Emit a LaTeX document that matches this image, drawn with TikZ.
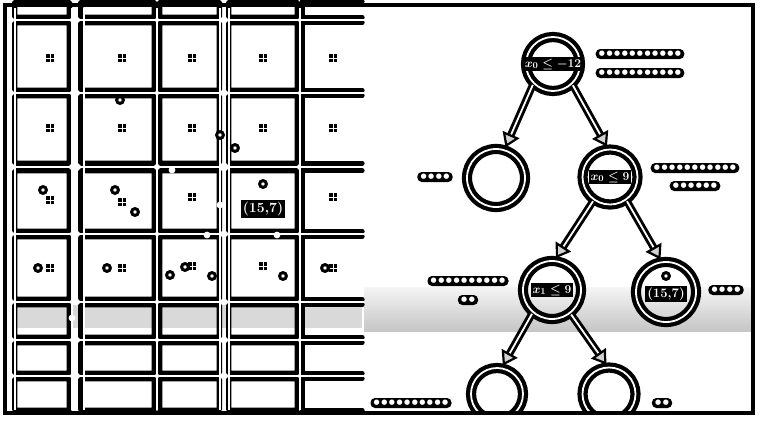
\documentclass[tikz,border=0pt]{standalone}
\usepackage{fontspec}
\newfontfamily\dejavu{DejaVu Sans}
\usetikzlibrary{arrows.meta}
\newcommand\dotrow[1]{\foreach \i in {1,...,#1}{\makebox[7.6pt]{●}}}
\tikzset{
  cellbox/.style={draw=black, line width=5.4pt, rounded corners=1.5pt},
  openrow/.style={draw=black, line width=5.4pt, line cap=round},
  streak/.style={draw=white, line width=1.3pt},
  tnode/.style={circle, draw=black, line width=4.2pt, double=white, double distance=1.8pt, inner sep=0pt},
  lab/.style={fill=black, text=white, inner xsep=2pt, inner ysep=1.5pt, font=\fontsize{13}{15}\selectfont\bfseries\boldmath},
  dotbar/.style={fill=black, text=white, rounded corners=4.5pt, inner xsep=2.5pt, inner ysep=0pt, minimum height=10pt, font=\dejavu\fontsize{7}{7}\selectfont},
  edge/.style={line width=2.9pt, double=white, double distance=1.8pt, shorten >=1pt, -{Triangle[length=14pt, width=18pt, fill=gray!35, line width=2.2pt]}},
  ring/.style={draw=black, line width=3pt},
  wdot/.style={fill=white},
}
\begin{document}
\begin{tikzpicture}[x=1pt, y=-1pt]
\useasboundingbox (0,0) rectangle (769,423);
\fill[white] (0,0) rectangle (769,423);
% grey band
\fill[gray!30] (12,305) rectangle (362,328);
\shade[top color=gray!8, bottom color=gray!45] (364,287) rectangle (752,331);
% grid cells (left panel)
\foreach \ya/\yb in {-1/20, 20/93, 93/166, 168/234, 234/302, 302/340, 340/376, 376/413}{
  \foreach \xa/\xb in {12/72, 78/157, 157/222, 226/300}{
    \draw[cellbox] (\xa+2.7,\ya+2.7) rectangle (\xb-2.7,\yb-2.7);
  }
  \draw[openrow] (362,\ya+2.7) -- (302.7,\ya+2.7) -- (302.7,\yb-2.7) -- (362,\yb-2.7);
}
% white streaks
\foreach \yy in {20, 93, 167, 234, 302, 340, 376}{
  \draw[streak] (8,\yy) -- (364,\yy);
}
\foreach \xx in {15, 72, 84, 157, 220, 229, 300}{
  \draw[streak] (\xx,8) -- (\xx,410);
}
% cell markers
\foreach \mx/\my in {50/58,122/58,192/58,263/58,333/58,
                     50/128,122/128,192/128,263/128,333/128,
                     50/200,122/202,192/197,333/197,
                     50/268,122/268,192/266,263/266,333/268}{
  \fill (\mx-3.6,\my-3.6) rectangle +(3.1,3.1);
  \fill (\mx+0.5,\my-3.6) rectangle +(3.1,3.1);
  \fill (\mx-3.6,\my+0.5) rectangle +(3.1,3.1);
  \fill (\mx+0.5,\my+0.5) rectangle +(3.1,3.1);
}
% data points
\foreach \px/\py in {120/100,220/135,235/148,43/190,115/190,135/212,263/184,
                     38/268,107/268,170/275,185/267,212/276,283/276,325/268}{
  \draw[ring, fill=white] (\px,\py) circle (3.4pt);
}
\foreach \px/\py in {172/170,220/205,207/235,277/235,72/318}{
  \fill[wdot] (\px,\py) circle (3.4pt);
}
\node[lab, font=\fontsize{14}{16}\selectfont\bfseries] (ptlabel) at (263,209) {(15,7)};
% tree (right panel)
\begin{scope}
\clip (6,6) rectangle (752,411);
\node[tnode, minimum size=54pt] (root) at (553,64) {};
\node[tnode, minimum size=58pt] (lc) at (496,178) {};
\node[tnode, minimum size=55pt] (rc) at (610,177) {};
\node[tnode, minimum size=58pt] (xa) at (552,290) {};
\node[tnode, minimum size=60pt] (leaf) at (666,292) {};
\node[tnode, minimum size=52pt] (bl) at (497,394) {};
\node[tnode, minimum size=53pt] (br) at (609,394) {};
\end{scope}
\node[lab] (t1) at (root) {$x_0\le -12$};
\node[lab] (t2) at (rc) {$x_0\le 9$};
\node[lab] (t3) at (xa) {$x_1\le 9$};
\node[lab] (t4) at (666,294) {(15,7)};
\draw[ring, fill=white] (666,276) circle (3.4pt);
% edges
\draw[edge] (root.226) -- (lc.73);
\draw[edge] (root.313) -- (rc.95);
\draw[edge] (rc.235) -- (xa.84);
\draw[edge] (rc.305) -- (leaf.99);
\draw[edge] (xa.230) -- (bl.79);
\draw[edge] (xa.308) -- (br.94);
% dotted labels
\node[dotbar] (d1) at (640,54) {\dotrow{11}};
\node[dotbar] (d2) at (640,73) {\dotrow{11}};
\node[dotbar] (d3) at (435,177) {\dotrow{4}};
\node[dotbar] (d4) at (695,168) {\dotrow{11}};
\node[dotbar] (d5) at (695,186) {\dotrow{6}};
\node[dotbar] (d6) at (468,281) {\dotrow{10}};
\node[dotbar] (d7) at (468,300) {\dotrow{2}};
\node[dotbar] (d8) at (726,290) {\dotrow{4}};
\node[dotbar] (d9) at (411,403) {\dotrow{10}};
\node[dotbar] (d10) at (662,403) {\dotrow{2}};
% outer frame
\draw[line width=4pt] (5,5) rectangle (753,413);
\end{tikzpicture}
\end{document}
